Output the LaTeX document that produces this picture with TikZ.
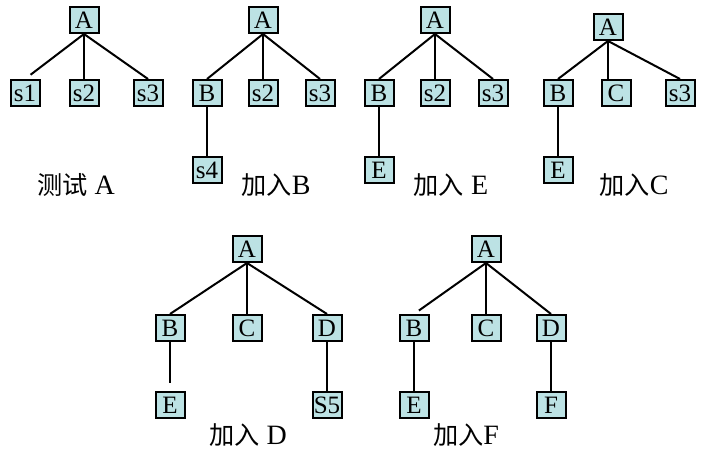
\documentclass[tikz,border=0pt]{standalone}
\usepackage{fontspec}
\setmainfont{Liberation Serif}
\newfontfamily\cjk{Noto Sans CJK SC}[Scale=0.9]
\definecolor{boxfill}{RGB}{188,226,228}
\begin{document}
\begin{tikzpicture}[x=1pt,y=-1pt,
  tn/.style={draw=black,line width=2pt,fill=boxfill,minimum width=29pt,minimum height=26pt,inner sep=0pt,font=\fontsize{25}{25}\selectfont},
  edge/.style={line width=2pt},
  captext/.style={font=\fontsize{28}{28}\selectfont,inner sep=0pt,anchor=base}]
\useasboundingbox (0,0) rectangle (708,449);
% Tree 1
\node[tn] (a1) at (84,20) {A};
\node[tn] (a1s1) at (25,93) {s1};
\node[tn] (a1s2) at (84,93) {s2};
\node[tn] (a1s3) at (148,93) {s3};
\draw[edge,shorten >=7pt] (a1.south) -- (a1s1.north);
\draw[edge] (a1.south) -- (a1s2.north);
\draw[edge] (a1.south) -- (a1s3.north);
\node[captext] (c1) at (76,194) {{\cjk 测试} A};
% Tree 2
\node[tn] (a2) at (263,20) {A};
\node[tn] (a2b) at (207,93) {B};
\node[tn] (a2s2) at (263,93) {s2};
\node[tn] (a2s3) at (320,93) {s3};
\node[tn] (a2s4) at (207,170) {s4};
\draw[edge] (a2.south) -- (a2b.north);
\draw[edge] (a2.south) -- (a2s2.north);
\draw[edge] (a2.south) -- (a2s3.north);
\draw[edge] (a2b.south) -- (a2s4.north);
\node[captext] (c2) at (276,194) {{\cjk 加入}B};
% Tree 3
\node[tn] (a3) at (435,20) {A};
\node[tn] (a3b) at (379,93) {B};
\node[tn] (a3s2) at (435,93) {s2};
\node[tn] (a3s3) at (493,93) {s3};
\node[tn] (a3e) at (379,170) {E};
\draw[edge] (a3.south) -- (a3b.north);
\draw[edge] (a3.south) -- (a3s2.north);
\draw[edge] (a3.south) -- (a3s3.north);
\draw[edge] (a3b.south) -- (a3e.north);
\node[captext] (c3) at (451,194) {{\cjk 加入} E};
% Tree 4
\node[tn] (a4) at (608,27) {A};
\node[tn] (a4b) at (558,93) {B};
\node[tn] (a4c) at (616,93) {C};
\node[tn] (a4s3) at (680,93) {s3};
\node[tn] (a4e) at (558,170) {E};
\draw[edge] (a4.south) -- (a4b.north);
\draw[edge] (a4.south) -- (a4.south |- a4c.north);
\draw[edge] (a4.south) -- (a4s3.north);
\draw[edge] (a4b.south) -- (a4e.north);
\node[captext] (c4) at (634,194) {{\cjk 加入}C};
% Tree 5
\node[tn] (a5) at (247,249) {A};
\node[tn] (a5b) at (170,328) {B};
\node[tn] (a5c) at (247,328) {C};
\node[tn] (a5d) at (327,328) {D};
\node[tn] (a5e) at (170,405) {E};
\node[tn] (a5s5) at (327,405) {S5};
\draw[edge] (a5.south) -- (a5b.north);
\draw[edge] (a5.south) -- (a5c.north);
\draw[edge] (a5.south) -- (a5d.north);
\draw[edge,shorten >=8pt] (a5b.south) -- (a5e.north);
\draw[edge] (a5d.south) -- (a5s5.north);
\node[captext] (c5) at (248,444) {{\cjk 加入} D};
% Tree 6
\node[tn] (a6) at (486,249) {A};
\node[tn] (a6b) at (414,328) {B};
\node[tn] (a6c) at (486,328) {C};
\node[tn] (a6d) at (551,328) {D};
\node[tn] (a6e) at (414,405) {E};
\node[tn] (a6f) at (551,405) {F};
\draw[edge,shorten >=6pt] (a6.south) -- (a6b.north);
\draw[edge] (a6.south) -- (a6c.north);
\draw[edge] (a6.south) -- (a6d.north);
\draw[edge] (a6b.south) -- (a6e.north);
\draw[edge] (a6d.south) -- (a6f.north);
\node[captext] (c6) at (466,444) {{\cjk 加入}F};
\end{tikzpicture}
\end{document}
